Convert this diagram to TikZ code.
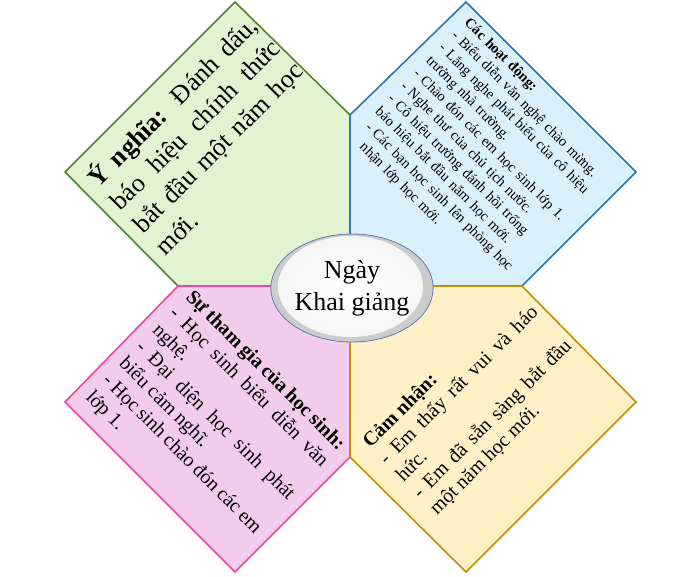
\documentclass[tikz,border=0pt]{standalone}
\usepackage{fontspec}
\setmainfont{Liberation Serif}
\usetikzlibrary{positioning,shapes.geometric}
\setlength{\parindent}{0pt}
\definecolor{greenfill}{HTML}{E2F3D2}
\definecolor{greenline}{HTML}{548235}
\definecolor{bluefill}{HTML}{DAF0FA}
\definecolor{blueline}{HTML}{2E75B6}
\definecolor{pinkfill}{HTML}{F2CDEB}
\definecolor{pinkline}{HTML}{F0489A}
\definecolor{yellowfill}{HTML}{FFF0C8}
\definecolor{yellowline}{HTML}{BF9000}
\definecolor{rimblue}{HTML}{5B7DB1}
\tikzset{
  petal/.style={line width=1.6pt, line join=miter},
  petaltext/.style={inner sep=0pt, anchor=north west, align=justify},
  hub/.style={ellipse, draw=rimblue, line width=0.8pt, fill=gray!40,
    minimum width=152pt, minimum height=108pt, inner sep=0pt, align=center,
    font=\fontsize{26}{32}\selectfont,
    path picture={\shade[inner color=white, outer color=gray!8]
      ([xshift=-1.5pt,yshift=1.5pt]path picture bounding box.center)
      ellipse [x radius=72.5pt, y radius=50.5pt];}}
}

\begin{document}
\begin{tikzpicture}[x=1pt,y=-1pt]
\useasboundingbox (0,0) rectangle (688,576);
\coordinate (c) at (350,286);

\draw[petal,draw=greenline,fill=greenfill] (c) -- (178,286) -- (65,172) -- (235,2) -- (350,115) -- cycle;
\draw[petal,draw=blueline,fill=bluefill] (c) -- (350,115) -- (466,2) -- (636,172) -- (522,286) -- cycle;
\draw[petal,draw=pinkline,fill=pinkfill] (c) -- (178,286) -- (65,402) -- (235,572) -- (350,457) -- cycle;
\draw[petal,draw=yellowline,fill=yellowfill] (c) -- (522,286) -- (636,402) -- (466,572) -- (350,457) -- cycle;

\node[petaltext, rotate=45, text width=228pt, font=\fontsize{26}{32}\selectfont] (meaning) at (82,173)
  {\textbf{Ý nghĩa:} Đánh dấu,\linebreak báo hiệu chính thức\linebreak bắt đầu một năm học\linebreak mới.};
\node[petaltext, rotate=-45, text width=215pt, align=left, font=\fontsize{14.5}{18}\selectfont] (events) at (471,16)
  {\textbf{Các hoạt động:}\\
   - Biểu diễn văn nghệ chào mừng.\\
   - Lắng nghe phát biểu của cô hiệu\\
   trưởng nhà trường.\\
   - Chào đón các em học sinh lớp 1.\\
   - Nghe thư của chủ tịch nước.\\
   - Cô hiệu trưởng đánh hồi trống\\
   báo hiệu bắt đầu năm học mới.\\
   \hspace*{4pt}- Các bạn học sinh lên phòng học\\
   \hspace*{14pt}nhận lớp học mới.};
\node[petaltext, rotate=-45, text width=216pt, font=\fontsize{20}{23.6}\selectfont] (pupils) at (195,288)
  {\textbf{Sự tham gia của học sinh:}\par
   - Học sinh biểu diễn văn\linebreak nghệ.\par
   - Đại diện học sinh phát\linebreak biểu cảm nghĩ.\par
   - Học sinh chào đón các em\linebreak lớp 1.};
\node[petaltext, rotate=45, text width=215pt, font=\fontsize{20}{23.6}\selectfont] (feeling) at (360,439)
  {\textbf{Cảm nhận:}\par
   - Em thấy rất vui và háo\linebreak hức.\par
   - Em đã sẵn sàng bắt đầu\linebreak một năm học mới.};

\node[hub] (day) at (352,288) {Ngày\\Khai giảng};
\end{tikzpicture}
\end{document}
